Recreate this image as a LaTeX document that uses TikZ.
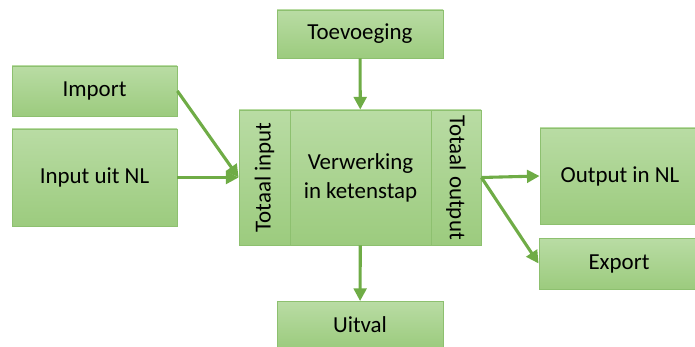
\documentclass[tikz,border=0pt]{standalone}
\usepackage{fontspec}
\setmainfont{Carlito}
\usetikzlibrary{arrows.meta}
\definecolor{boxtop}{HTML}{B9DCA4}
\definecolor{boxbot}{HTML}{9CCB7E}
\definecolor{boxline}{HTML}{8DC06F}
\definecolor{pijl}{HTML}{6FAC46}
\begin{document}
\begin{tikzpicture}[x=0.025cm,y=-0.025cm,
	every node/.style={draw=boxline,line width=.6pt,top color=boxtop,bottom color=boxbot,inner sep=0pt,align=center,font=\fontsize{16.3}{20.5}\selectfont},
	pijl/.style={draw=pijl,line width=2.2pt,-{Triangle[length=9pt,width=9pt]}}]
	\useasboundingbox (0,0) rectangle (695,347);
	\node[minimum width=166*0.025cm,minimum height=48*0.025cm] (toe) at (360,34){Toevoeging};
	\node[minimum width=165*0.025cm,minimum height=50*0.025cm] (imp) at (94.5,91){Import};
	\node[minimum width=165*0.025cm,minimum height=97*0.025cm] (inp) at (94.5,177.5){Input uit NL};
	% verwerkingsblok in drie delen
	\node[minimum width=141*0.025cm,minimum height=135*0.025cm] (verw) at (360.5,177.5){Verwerking\\in ketenstap};
	\node[minimum width=135*0.025cm,minimum height=51*0.025cm,rotate=90] (tin) at (264.5,177.5){Totaal input};
	\node[minimum width=135*0.025cm,minimum height=50*0.025cm,rotate=-90] (tout) at (456,177.5){Totaal output};
	\node[minimum width=166*0.025cm,minimum height=46*0.025cm] (uit) at (360,324.5){Uitval};
	\node[minimum width=160*0.025cm,minimum height=96*0.025cm] (outp) at (620,176){Output in NL};
	\node[minimum width=160*0.025cm,minimum height=51*0.025cm] (exp) at (619,263.5){Export};
	\draw[pijl] (imp.east)--(tin.north);
	\draw[pijl] (inp.east)--(tin.north);
	\draw[pijl] (toe)--(verw);
	\draw[pijl] (verw)--(uit);
	\draw[pijl] (tout.north)--(outp.west);
	\draw[pijl] (tout.north)--(exp.west);
\end{tikzpicture}
\end{document}
